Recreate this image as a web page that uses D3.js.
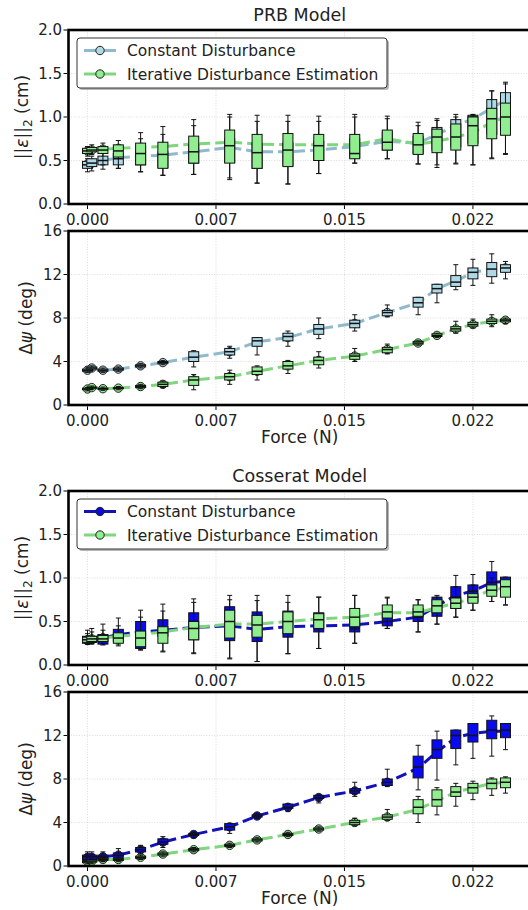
<!doctype html>
<html>
<head>
<meta charset="utf-8">
<style>
  body { margin: 0; background: #fff; }
  svg { display: block; font-family: "DejaVu Sans", sans-serif; }
</style>
<script src="https://cdn.jsdelivr.net/npm/d3@7"></script>
</head>
<body>
<svg id="chart" width="528" height="910"></svg>
<script>
// force levels (N)
var force = [0, 0.00025, 0.0009, 0.0018, 0.0031, 0.0044, 0.0062, 0.0083, 0.0099, 0.0117,
             0.0135, 0.0156, 0.0175, 0.0193, 0.0204, 0.0215, 0.0225, 0.0236, 0.0244];
var xTicks = [0, 0.0075, 0.015, 0.0225];
var xTickLabels = ["0.000", "0.007", "0.015", "0.022"];
var errTicks = [0, 0.5, 1, 1.5, 2];
var errTickLabels = ["0.0", "0.5", "1.0", "1.5", "2.0"];
var angTicks = [0, 4, 8, 12, 16];
var angTickLabels = ["0", "4", "8", "12", "16"];

// box stats: [whisker low, q1, median, q3, whisker high]
var prbErrConst = [[.37,.41,.45,.49,.52],[.38,.43,.47,.52,.55],[.40,.45,.50,.55,.60],[.41,.45,.52,.58,.66],
  [.37,.45,.53,.62,.75],[.33,.42,.50,.60,.80],[.34,.47,.57,.68,.90],[.30,.48,.60,.75,1.0],[.24,.41,.55,.70,.95],
  [.23,.44,.55,.70,.95],[.35,.50,.57,.72,.95],[.47,.53,.55,.75,1.0],[.52,.62,.71,.83,.98],[.46,.58,.66,.78,.90],
  [.45,.62,.76,.88,.98],[.47,.66,.91,.97,1.03],[.45,.70,1.0,1.02,1.03],[.53,.80,1.09,1.20,1.30],[.58,.85,1.15,1.28,1.40]];
var prbErrConstMean = [.46,.47,.50,.53,.55,.56,.60,.65,.60,.60,.62,.66,.72,.70,.80,.90,.98,1.10,1.20];
var prbErrIter = [[.55,.58,.61,.64,.66],[.57,.60,.62,.65,.68],[.45,.58,.62,.66,.70],[.41,.54,.61,.68,.73],
  [.37,.45,.58,.70,.82],[.33,.41,.57,.71,.89],[.34,.47,.60,.78,.97],[.28,.47,.67,.85,1.03],[.24,.41,.59,.80,1.02],
  [.23,.43,.62,.81,1.02],[.35,.50,.67,.80,1.01],[.47,.52,.58,.80,1.03],[.52,.62,.71,.85,1.01],[.46,.57,.68,.81,.94],
  [.42,.59,.77,.86,.96],[.46,.62,.77,.92,1.0],[.45,.67,.90,1.0,1.02],[.52,.75,.98,1.10,1.30],[.57,.79,1.0,1.16,1.38]];
var prbErrIterMean = [.61,.62,.63,.64,.65,.66,.69,.71,.69,.68,.68,.68,.75,.69,.72,.77,.82,.94,1.0];

var prbAngConst = [[3.0,3.1,3.2,3.3,3.4],[3.2,3.3,3.4,3.5,3.6],[3.0,3.1,3.2,3.3,3.4],[3.1,3.2,3.3,3.4,3.5],
  [3.4,3.5,3.6,3.7,3.8],[3.7,3.8,3.9,4.0,4.1],[3.5,4.0,4.4,4.9,5.0],[4.3,4.6,4.9,5.2,5.4],[4.6,5.4,5.9,6.2,6.2],
  [5.4,5.9,6.3,6.6,6.8],[6.1,6.5,7.0,7.4,8.0],[6.8,7.1,7.5,7.8,8.3],[8.1,8.2,8.5,8.7,9.2],[8.3,9.0,9.4,9.9,9.9],
  [9.4,10.3,10.7,11.1,11.1],[10.6,10.9,11.3,11.9,12.9],[11.0,11.6,12.2,12.6,13.4],[11.2,11.8,12.5,13.1,13.9],
  [11.6,12.2,12.6,12.9,13.2]];
var prbAngConstMean = [3.2,3.4,3.2,3.3,3.6,3.9,4.4,4.9,5.8,6.2,7.0,7.5,8.5,9.4,10.7,11.4,12.2,12.5,12.6];
var prbAngIter = [[1.3,1.4,1.47,1.55,1.6],[1.45,1.55,1.6,1.65,1.75],[1.35,1.45,1.5,1.55,1.65],[1.4,1.5,1.55,1.6,1.7],
  [1.5,1.6,1.7,1.8,1.9],[1.6,1.7,1.9,2.1,2.2],[1.4,1.8,2.3,2.6,2.8],[1.9,2.3,2.6,2.9,3.2],[2.3,2.8,3.1,3.5,3.6],
  [2.9,3.3,3.6,4.0,4.1],[3.4,3.7,4.1,4.4,4.9],[4.0,4.2,4.5,4.7,5.2],[4.7,4.8,5.1,5.3,5.6],[5.5,5.6,5.7,5.85,5.9],
  [6.2,6.3,6.4,6.55,6.6],[6.6,6.8,7.0,7.2,7.7],[7.1,7.25,7.4,7.6,7.9],[7.2,7.5,7.7,7.9,8.3],[7.5,7.65,7.8,7.9,8.0]];
var prbAngIterMean = [1.47,1.6,1.5,1.55,1.7,1.9,2.3,2.6,3.1,3.6,4.1,4.5,5.1,5.7,6.4,7.0,7.4,7.7,7.8];

var cosErrConst = [[.24,.25,.28,.33,.40],[.24,.26,.29,.33,.42],[.23,.24,.29,.35,.47],[.22,.27,.33,.41,.54],
  [.18,.19,.33,.50,.63],[.16,.33,.42,.52,.70],[.14,.29,.50,.60,.76],[.08,.28,.55,.67,.80],[.04,.27,.52,.61,.80],
  [.13,.32,.50,.62,.80],[.19,.38,.42,.60,.78],[.25,.38,.42,.53,.80],[.42,.45,.50,.57,.78],[.38,.50,.55,.65,.75],
  [.47,.56,.70,.78,.80],[.55,.65,.78,.90,1.03],[.63,.73,.85,.92,1.04],[.73,.84,.95,1.07,1.19],[.69,.86,.97,1.01,1.01]];
var cosErrConstMean = [.28,.29,.31,.35,.38,.40,.43,.45,.41,.44,.45,.46,.50,.55,.68,.80,.85,.95,.96];
var cosErrIter = [[.24,.26,.29,.32,.36],[.25,.27,.30,.33,.38],[.24,.27,.30,.34,.40],[.24,.25,.31,.37,.45],
  [.17,.21,.31,.39,.55],[.15,.25,.37,.44,.62],[.13,.29,.42,.50,.72],[.07,.31,.50,.63,.75],[.04,.32,.46,.57,.74],
  [.13,.36,.50,.61,.72],[.19,.42,.52,.59,.78],[.25,.44,.55,.65,.80],[.42,.54,.61,.69,.77],[.38,.56,.61,.69,.75],
  [.47,.60,.68,.75,.78],[.55,.65,.71,.77,.90],[.63,.71,.78,.82,.92],[.73,.79,.86,.92,1.0],[.69,.78,.90,.98,.98]];
var cosErrIterMean = [.29,.30,.31,.33,.35,.38,.43,.47,.47,.50,.53,.55,.60,.60,.66,.71,.77,.87,.88];

var cosAngConst = [[.4,.6,.85,1.0,1.3],[.4,.6,.85,1.0,1.3],[.4,.6,.85,1.0,1.3],[.6,.8,1.0,1.2,1.6],
  [1.1,1.3,1.5,1.7,1.9],[1.7,2.0,2.2,2.5,2.7],[2.6,2.8,2.9,3.0,3.1],[3.0,3.3,3.6,3.9,3.9],[4.4,4.5,4.6,4.7,4.8],
  [5.0,5.3,5.4,5.7,5.7],[5.8,6.2,6.3,6.5,6.5],[6.4,6.7,6.9,7.1,7.7],[7.3,7.4,7.7,8.0,8.9],[7.0,8.1,9.1,10.1,11.1],
  [7.9,9.9,10.7,11.6,12.4],[9.3,10.8,12.0,12.5,12.5],[9.9,11.4,12.0,13.1,13.1],[10.1,11.7,12.5,13.4,13.8],
  [10.7,11.8,12.5,13.1,13.1]];
var cosAngConstMean = [.8,.8,.85,1.0,1.5,2.2,2.9,3.6,4.6,5.4,6.3,6.9,7.7,9.0,10.5,11.8,12.2,12.4,12.4];
var cosAngIter = [[.2,.3,.4,.5,.6],[.25,.35,.45,.55,.65],[.4,.5,.6,.7,.8],[.4,.5,.6,.7,.8],[.6,.7,.8,.9,1.0],
  [.9,1.0,1.1,1.2,1.3],[1.3,1.4,1.5,1.6,1.7],[1.7,1.8,1.9,2.0,2.1],[2.2,2.3,2.4,2.5,2.6],[2.7,2.8,2.9,3.0,3.1],
  [3.2,3.3,3.4,3.5,3.6],[3.7,3.8,4.0,4.2,4.4],[4.2,4.3,4.5,4.7,5.2],[4.0,4.8,5.4,6.1,6.4],[4.7,5.5,6.1,7.0,7.2],
  [5.5,6.4,6.8,7.3,7.6],[6.1,6.7,7.2,7.6,7.8],[6.5,7.1,7.6,8.0,8.1],[6.7,7.2,7.7,8.1,8.2]];
var cosAngIterMean = [.4,.45,.6,.6,.8,1.1,1.5,1.9,2.4,2.9,3.4,4.0,4.5,5.2,6.0,6.8,7.2,7.6,7.7];

var legendNames = ["Constant Disturbance", "Iterative Disturbance Estimation"];

var svg = d3.select("#chart");
var left = 68.5, right = 531, ph = 174;
var x = d3.scaleLinear().domain([-0.00111, 0.02589]).range([left, right]);

var lightBlue = { box: "#add8e6", line: "#8fb9cc", marker: "#add8e6" };
var darkBlue  = { box: "#0a0af0", line: "#1212b8", marker: "#0a0ad0" };
var green     = { box: "#90ee90", line: "#7fd67f", marker: "#90ee90" };

var panels = [
  { top: 30,  title: "PRB Model", kind: "err", ticks: errTicks, labels: errTickLabels, dom: [0, 2],
    series: [{ s: prbErrConst, m: prbErrConstMean, c: lightBlue }, { s: prbErrIter, m: prbErrIterMean, c: green }], legend: true },
  { top: 231, kind: "ang", ticks: angTicks, labels: angTickLabels, dom: [0, 16], xlabel: true,
    series: [{ s: prbAngConst, m: prbAngConstMean, c: lightBlue }, { s: prbAngIter, m: prbAngIterMean, c: green }] },
  { top: 491, title: "Cosserat Model", kind: "err", ticks: errTicks, labels: errTickLabels, dom: [0, 2],
    series: [{ s: cosErrConst, m: cosErrConstMean, c: darkBlue }, { s: cosErrIter, m: cosErrIterMean, c: green }], legend: true },
  { top: 692, kind: "ang", ticks: angTicks, labels: angTickLabels, dom: [0, 16], xlabel: true,
    series: [{ s: cosAngConst, m: cosAngConstMean, c: darkBlue }, { s: cosAngIter, m: cosAngIterMean, c: green }] }
];

panels.forEach(function(p) {
  var y = d3.scaleLinear().domain(p.dom).range([p.top + ph, p.top]);
  var g = svg.append("g");

  // grid
  g.selectAll(".gx").data(xTicks).enter().append("line")
    .attr("x1", d => x(d)).attr("x2", d => x(d)).attr("y1", p.top).attr("y2", p.top + ph)
    .attr("stroke", "#d4d4d4").attr("stroke-width", 0.8).attr("stroke-dasharray", "1,1.6");
  g.selectAll(".gy").data(p.ticks).enter().append("line")
    .attr("x1", left).attr("x2", right).attr("y1", d => y(d)).attr("y2", d => y(d))
    .attr("stroke", "#d4d4d4").attr("stroke-width", 0.8).attr("stroke-dasharray", "1,1.6");

  // mean lines + markers (behind boxes)
  var line = d3.line().x((d, i) => x(force[i])).y(d => y(d));
  p.series.forEach(function(se) {
    g.append("path").attr("d", line(se.m)).attr("fill", "none")
      .attr("stroke", se.c.line).attr("stroke-width", 3).attr("stroke-dasharray", "11,5");
  });
  p.series.forEach(function(se) {
    g.selectAll(null).data(se.m).enter().append("circle")
      .attr("cx", (d, i) => x(force[i])).attr("cy", d => y(d)).attr("r", 4.2)
      .attr("fill", se.c.marker).attr("stroke", "#222").attr("stroke-width", 1);
  });

  // boxes
  var bw = 10;
  p.series.forEach(function(se) {
    var b = g.selectAll(null).data(se.s).enter().append("g");
    b.append("line").attr("x1", (d, i) => x(force[i])).attr("x2", (d, i) => x(force[i]))
      .attr("y1", d => y(d[0])).attr("y2", d => y(d[1])).attr("stroke", "#111").attr("stroke-width", 1);
    b.append("line").attr("x1", (d, i) => x(force[i])).attr("x2", (d, i) => x(force[i]))
      .attr("y1", d => y(d[3])).attr("y2", d => y(d[4])).attr("stroke", "#111").attr("stroke-width", 1);
    [0, 4].forEach(function(k) {
      b.append("line").attr("x1", (d, i) => x(force[i]) - 2.5).attr("x2", (d, i) => x(force[i]) + 2.5)
        .attr("y1", d => y(d[k])).attr("y2", d => y(d[k])).attr("stroke", "#111").attr("stroke-width", 1);
    });
    b.append("rect").attr("x", (d, i) => x(force[i]) - bw / 2).attr("width", bw)
      .attr("y", d => y(d[3])).attr("height", d => Math.max(0.5, y(d[1]) - y(d[3])))
      .attr("fill", se.c.box).attr("stroke", "#111").attr("stroke-width", 1);
    b.append("line").attr("x1", (d, i) => x(force[i]) - bw / 2).attr("x2", (d, i) => x(force[i]) + bw / 2)
      .attr("y1", d => y(d[2])).attr("y2", d => y(d[2])).attr("stroke", "#111").attr("stroke-width", 1.5);
  });

  // frame
  g.append("rect").attr("x", left).attr("y", p.top).attr("width", right - left).attr("height", ph)
    .attr("fill", "none").attr("stroke", "#000").attr("stroke-width", 2.6);

  // x axis ticks
  g.selectAll(".tx").data(xTicks).enter().append("line")
    .attr("x1", d => x(d)).attr("x2", d => x(d)).attr("y1", p.top + ph + 1.3).attr("y2", p.top + ph + 5)
    .attr("stroke", "#000").attr("stroke-width", 1);
  g.selectAll(".lx").data(xTicks).enter().append("text")
    .attr("x", d => x(d)).attr("y", p.top + ph + 21).attr("text-anchor", "middle")
    .attr("font-size", 15).attr("fill", "#222").text((d, i) => xTickLabels[i]);

  // y axis ticks
  g.selectAll(".ty").data(p.ticks).enter().append("line")
    .attr("x1", left - 1.3).attr("x2", left - 5).attr("y1", d => y(d)).attr("y2", d => y(d))
    .attr("stroke", "#000").attr("stroke-width", 1);
  g.selectAll(".ly").data(p.ticks).enter().append("text")
    .attr("x", left - 6.5).attr("y", d => y(d) + 5.3).attr("text-anchor", "end")
    .attr("font-size", 15).attr("fill", "#222").text((d, i) => p.labels[i]);

  // y label
  var yl = g.append("text").attr("transform", "translate(" + (p.kind === "err" ? 28 : 32) + "," + (p.top + ph / 2) + ") rotate(-90)")
    .attr("text-anchor", "middle").attr("font-size", 17).attr("fill", "#222");
  if (p.kind === "err") {
    yl.append("tspan").text("||");
    yl.append("tspan").attr("font-style", "italic").text("ε");
    yl.append("tspan").text("||");
    yl.append("tspan").attr("font-size", 12).attr("dy", 4).text("2");
    yl.append("tspan").attr("dy", -4).text(" (cm)");
  } else {
    yl.append("tspan").text("Δ");
    yl.append("tspan").attr("font-style", "italic").text("ψ");
    yl.append("tspan").text(" (deg)");
  }

  if (p.title) {
    g.append("text").attr("x", (left + right) / 2).attr("y", p.top - 9).attr("text-anchor", "middle")
      .attr("font-size", 17.5).attr("fill", "#222").text(p.title);
  }
  if (p.xlabel) {
    g.append("text").attr("x", (left + right) / 2).attr("y", p.top + ph + 38).attr("text-anchor", "middle")
      .attr("font-size", 17).attr("fill", "#222").text("Force (N)");
  }

  if (p.legend) {
    var lx = 77, ly = p.top + 8, lw = 310, lh = 50;
    g.append("rect").attr("x", lx + 2).attr("y", ly + 2).attr("width", lw).attr("height", lh).attr("rx", 3)
      .attr("fill", "#888").attr("opacity", 0.6);
    g.append("rect").attr("x", lx).attr("y", ly).attr("width", lw).attr("height", lh).attr("rx", 3)
      .attr("fill", "#fff").attr("stroke", "#333").attr("stroke-width", 1);
    p.series.forEach(function(se, k) {
      var yy = ly + 12.5 + k * 23.5;
      g.append("line").attr("x1", lx + 7).attr("x2", lx + 39).attr("y1", yy).attr("y2", yy)
        .attr("stroke", se.c.line).attr("stroke-width", 3);
      g.append("circle").attr("cx", lx + 23).attr("cy", yy).attr("r", 4.2)
        .attr("fill", se.c.marker).attr("stroke", "#222").attr("stroke-width", 1);
      g.append("text").attr("x", lx + 50).attr("y", yy + 5.5).attr("font-size", 15.5).attr("fill", "#222")
        .text(legendNames[k]);
    });
  }
});
</script>
</body>
</html>
